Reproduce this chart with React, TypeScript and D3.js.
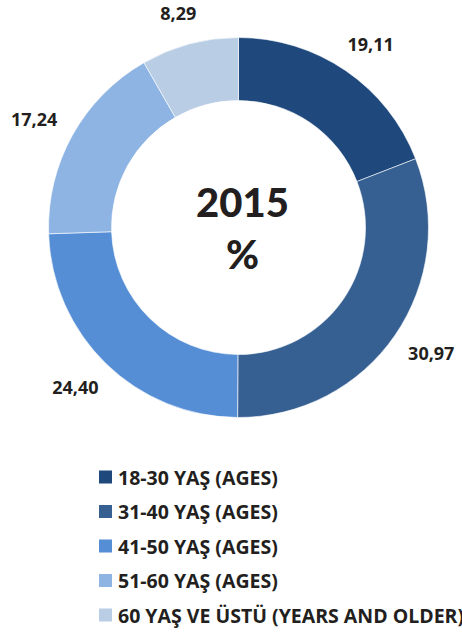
import React from "react";
import * as d3 from "d3";

const WIDTH = 462;
const HEIGHT = 633;
const CX = 238.5;
const CY = 227.5;
const OUTER = 190;
const INNER = 127;
const LABEL_R = 222;
const LABEL_PUSH = 12; // nudge labels sideways, away from the ring

const categories = [
  "18-30 YAŞ (AGES)",
  "31-40 YAŞ (AGES)",
  "41-50 YAŞ (AGES)",
  "51-60 YAŞ (AGES)",
  "60 YAŞ VE ÜSTÜ (YEARS AND OLDER)",
];
const values = [19.11, 30.97, 24.4, 17.24, 8.29];
const valueLabels = ["19,11", "30,97", "24,40", "17,24", "8,29"];
const colors = ["#1f497d", "#376092", "#558ed5", "#8eb4e3", "#b9cde5"];

const FONT = "'Open Sans', Lato, sans-serif";
const CENTER_FONT = "Lato, 'Open Sans', sans-serif";
const TEXT = "#231f20";

export default function App() {
  const pie = d3
    .pie<number>()
    .sort(null)
    .value((d) => d);
  const arcs = pie(values);

  const arc = d3.arc<d3.PieArcDatum<number>>().innerRadius(INNER).outerRadius(OUTER);
  const labelArc = d3
    .arc<d3.PieArcDatum<number>>()
    .innerRadius(LABEL_R)
    .outerRadius(LABEL_R);

  const legendY = d3
    .scalePoint<string>()
    .domain(categories)
    .range([477, 615]);

  return (
    <svg
      width={WIDTH}
      height={HEIGHT}
      style={{ position: "absolute", left: 0, top: 0, background: "#fff" }}
    >
      <g transform={`translate(${CX},${CY})`}>
        {arcs.map((a, i) => (
          <path
            key={i}
            d={arc(a) || ""}
            fill={colors[i]}
            stroke="#fff"
            strokeWidth={0.6}
          />
        ))}
        {arcs.map((a, i) => {
          const [x, y] = labelArc.centroid(a);
          const mid = (a.startAngle + a.endAngle) / 2;
          return (
            <text
              key={i}
              x={x + LABEL_PUSH * Math.sin(mid)}
              y={y}
              textAnchor="middle"
              dominantBaseline="central"
              style={{ fontFamily: FONT, fontWeight: 700, fontSize: 18, fill: TEXT }}
            >
              {valueLabels[i]}
            </text>
          );
        })}
        <text
          x={4}
          y={-11}
          textAnchor="middle"
          style={{ fontFamily: CENTER_FONT, fontWeight: 900, fontSize: 40, fill: TEXT }}
        >
          2015
        </text>
        <text
          x={4}
          y={41}
          textAnchor="middle"
          style={{ fontFamily: CENTER_FONT, fontWeight: 900, fontSize: 40, fill: TEXT }}
        >
          %
        </text>
      </g>
      <g>
        {categories.map((c, i) => {
          const y = legendY(c) || 0;
          return (
            <g key={c} transform={`translate(99,${y})`}>
              <rect x={0} y={-6.5} width={13} height={13} fill={colors[i]} />
              <text
                x={19}
                y={0}
                dominantBaseline="central"
                style={{ fontFamily: FONT, fontWeight: 700, fontSize: 19.5, fill: TEXT }}
              >
                {c}
              </text>
            </g>
          );
        })}
      </g>
    </svg>
  );
}
